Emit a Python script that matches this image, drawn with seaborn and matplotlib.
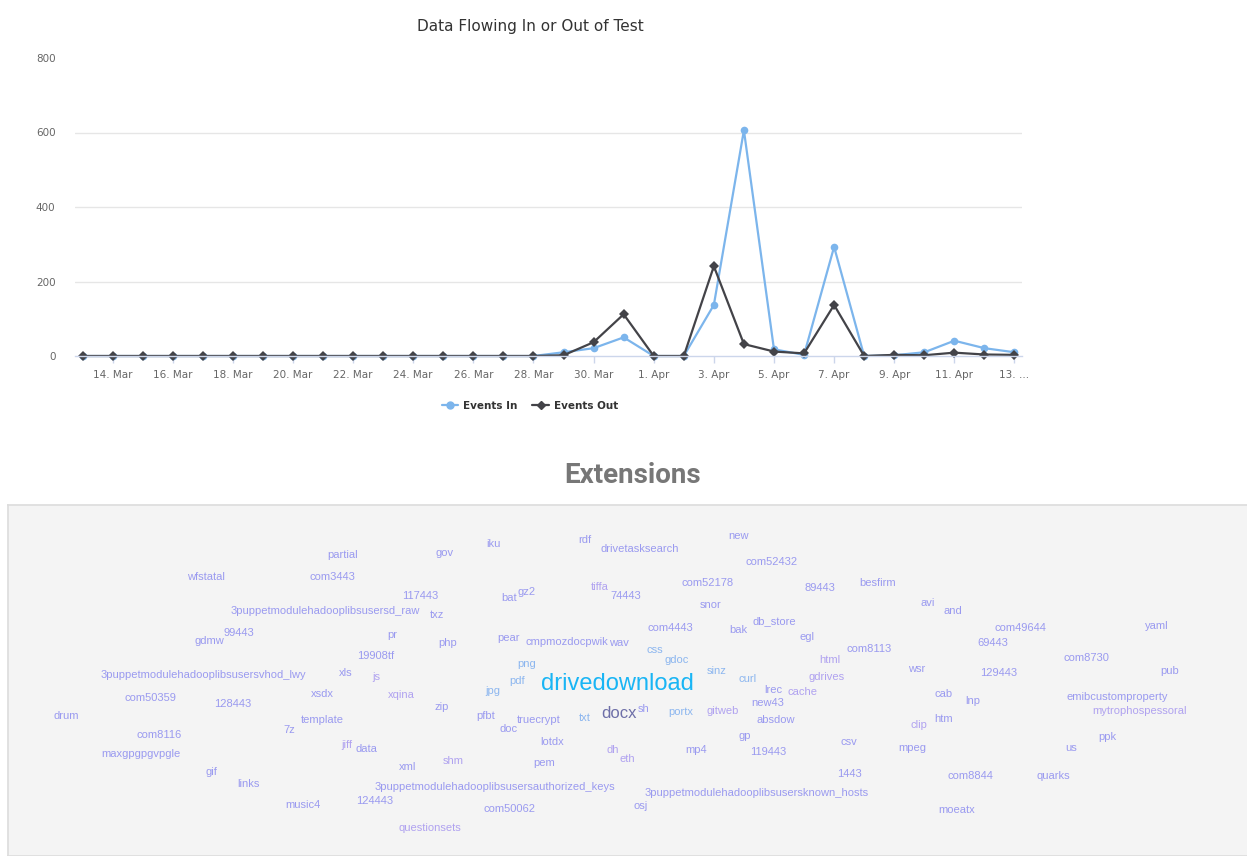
import pandas as pd
import seaborn as sns
import matplotlib.pyplot as plt
from matplotlib.lines import Line2D

# daily counts, 13 Mar - 13 Apr
days = pd.date_range("2017-03-13", "2017-04-13", freq="D")
events_in = [0, 0, 0, 0, 0, 0, 0, 0, 0, 0, 0, 0, 0, 0, 0, 0,
             10, 21, 50, 0, 0, 137, 606, 18, 3, 293, 0, 2, 10, 41, 21, 10]
events_out = [0, 0, 0, 0, 0, 0, 0, 0, 0, 0, 0, 0, 0, 0, 0, 0,
              2, 37, 112, 0, 0, 241, 32, 12, 7, 137, 0, 3, 2, 9, 4, 3]
series_names = ["Events In", "Events Out"]
y_ticks = [0, 200, 400, 600, 800]

# extension word cloud
ext_words = [
    "partial", "gov", "iku", "rdf", "drivetasksearch", "new", "com52432",
    "wfstatal", "com3443", "117443", "bat", "gz2", "tiffa", "74443", "com52178", "89443", "besfirm",
    "3puppetmodulehadooplibsusersd_raw", "txz", "snor", "avi", "and", "db_store",
    "gdmw", "99443", "pr", "php", "pear", "cmpmozdocpwik", "wav", "com4443", "bak", "egl",
    "com49644", "yaml", "19908tf", "com8113", "69443", "css", "gdoc", "html", "com8730",
    "png", "sinz", "3puppetmodulehadooplibsusersvhod_lwy", "xls", "js", "pdf", "drivedownload",
    "curl", "gdrives", "wsr", "129443", "pub", "jpg", "lrec", "cache", "com50359", "128443",
    "xsdx", "xqina", "cab", "lnp", "emibcustomproperty", "new43", "zip", "pfbt", "truecrypt",
    "txt", "docx", "sh", "portx", "gitweb", "absdow", "clip", "htm", "mytrophospessoral",
    "drum", "template", "7z", "doc", "com8116", "lotdx", "gp", "ppk", "jiff", "data", "dh",
    "eth", "mp4", "119443", "csv", "mpeg", "us", "maxgpgpgvpgle", "shm", "pem", "xml", "gif",
    "1443", "com8844", "quarks", "links", "3puppetmodulehadooplibsusersauthorized_keys",
    "3puppetmodulehadooplibsusersknown_hosts", "music4", "124443", "com50062", "osj",
    "moeatx", "questionsets",
]
ext_weight = {"drivedownload": 10, "docx": 4}

# where each word sits in the cloud box (pixel coords of the page)
cloud_layout = [
    (343, 555), (445, 553), (493, 544), (585, 540), (640, 549), (739, 536), (772, 562),
    (206, 577), (332, 577), (420, 596), (509, 598), (527, 592), (600, 587), (626, 596),
    (708, 583), (820, 588), (878, 583),
    (325, 611), (437, 615), (711, 605), (928, 603), (953, 611), (774, 621),
    (209, 641), (239, 633), (392, 635), (448, 643), (509, 638), (567, 642), (619, 643),
    (670, 628), (738, 630), (807, 637),
    (1020, 628), (1157, 626), (376, 656), (869, 649), (993, 643), (655, 650), (677, 660),
    (830, 660), (1086, 658),
    (527, 664), (717, 671), (203, 675), (346, 673), (376, 677), (517, 681), (617, 684),
    (748, 679), (827, 677), (917, 669), (999, 673), (1170, 671), (493, 691), (773, 690),
    (803, 692), (150, 698), (233, 704),
    (322, 694), (401, 695), (944, 694), (973, 701), (1117, 697), (768, 703), (442, 707),
    (486, 716), (539, 720),
    (585, 718), (619, 713), (644, 709), (681, 712), (723, 711), (776, 720), (919, 725),
    (944, 719), (1140, 711),
    (66, 716), (322, 720), (289, 730), (509, 729), (159, 735), (552, 742), (745, 736),
    (1107, 737), (347, 745), (366, 749), (613, 750),
    (627, 759), (696, 750), (768, 752), (849, 742), (912, 748), (1071, 748), (141, 754),
    (453, 761), (544, 763), (408, 767), (211, 772),
    (849, 774), (970, 776), (1053, 776), (248, 784), (495, 787),
    (757, 793), (303, 805), (375, 801), (510, 809), (641, 806),
    (957, 810), (430, 828),
]
sky_words = {"pdf", "jpg", "png", "txt", "gdoc", "sinz", "portx", "css", "curl"}
lilac_words = {"tiffa", "jiff", "js", "html", "clip", "gdrives", "cache", "dh",
               "questionsets", "shm", "eth", "xqina", "mytrophospessoral", "gitweb"}

W, H = 1247, 856

sns.set_theme(style="white")
plt.rcParams["font.family"] = ["DejaVu Sans"]

fig = plt.figure(figsize=(W / 100, H / 100), dpi=100)
fig.patch.set_facecolor("white")

# ---- line chart ----
ax = fig.add_axes([75 / W, 1 - 356 / H, (1022 - 75) / W, (356 - 58) / H])

df = pd.DataFrame({
    "day": list(days) * 2,
    "count": events_in + events_out,
    "series": [series_names[0]] * len(days) + [series_names[1]] * len(days),
})
colors = {"Events In": "#7cb5ec", "Events Out": "#434348"}

sns.lineplot(data=df, x="day", y="count", hue="series", style="series",
             palette=colors, markers={"Events In": "o", "Events Out": "D"},
             dashes=False, linewidth=1.6, markersize=5.5, markeredgewidth=0,
             clip_on=False, legend=False, ax=ax)

ax.set_xlim(days[0] - pd.Timedelta(hours=6), days[-1] + pd.Timedelta(hours=6))
ax.set_ylim(0, 800)
ax.set_yticks(y_ticks)
ax.set_yticklabels([str(v) for v in y_ticks])
for v in y_ticks[1:-1]:
    ax.axhline(v, color="#e6e6e6", lw=1, zorder=0)

tick_days = days[1::2]
tick_labels = [f"{d.day}. {d:%b}" for d in tick_days]
tick_labels[-1] = "13. …"
ax.set_xticks(tick_days)
ax.set_xticklabels(tick_labels)

for s in ["top", "right", "left"]:
    ax.spines[s].set_visible(False)
ax.spines["bottom"].set_color("#ccd6eb")
ax.spines["bottom"].set_linewidth(1)
ax.tick_params(axis="y", length=0, pad=14, labelsize=7.5, labelcolor="#666666")
ax.tick_params(axis="x", length=5, width=1, color="#ccd6eb", pad=5,
               labelsize=7.5, labelcolor="#666666", bottom=True)
ax.set_xlabel("")
ax.set_ylabel("")

fig.text(530 / W, 1 - 27 / H, "Data Flowing In or Out of Test", ha="center", va="center",
         fontsize=11, color="#333333")

handles = [Line2D([0], [0], color=colors["Events In"], marker="o", lw=1.6, markersize=5),
           Line2D([0], [0], color=colors["Events Out"], marker="D", lw=1.6, markersize=4)]
leg = fig.legend(handles, series_names, loc="center", bbox_to_anchor=(530 / W, 1 - 406 / H),
                 ncol=2, frameon=False, prop={"weight": "bold", "size": 7.5},
                 handlelength=1.6, handletextpad=0.5, columnspacing=1.4)
for t in leg.get_texts():
    t.set_color("#333333")

# ---- word cloud ----
fig.text(633 / W, 1 - 475 / H, "Extensions", ha="center", va="center", fontsize=20,
         fontweight="bold", color="#777777", family=["Roboto", "DejaVu Sans"])

cax = fig.add_axes([8 / W, 0, 1, 1 - 505 / H])
cax.set_xlim(8, 8 + W)
cax.set_ylim(H, 505)
cax.set_facecolor("#f4f4f4")
cax.set_xticks([])
cax.set_yticks([])
for s in cax.spines.values():
    s.set_color("#dddddd")

for word, (x, y) in zip(ext_words, cloud_layout):
    w = ext_weight.get(word, 1)
    if w >= 10:
        size, color = 17, "#19b5f5"
    elif w >= 4:
        size, color = 12, "#6e6fa8"
    else:
        size = 8
        color = "#8cb6ef" if word in sky_words else ("#b0a2f0" if word in lilac_words else "#9a9af0")
    cax.text(x, y, word, ha="center", va="center", fontsize=size, color=color,
             family=["Liberation Sans", "DejaVu Sans"])

fig.savefig("out.png", dpi=100)
